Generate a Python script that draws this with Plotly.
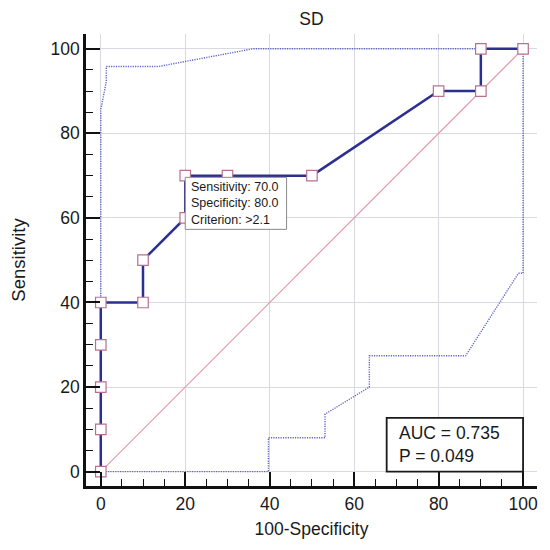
import plotly.graph_objects as go

# ROC curve points (100-Specificity, Sensitivity)
fpr = [0, 0, 0, 0, 0, 10, 10, 20, 20, 30, 50, 80, 90, 90, 100]
tpr = [0, 10, 20, 30, 40, 40, 50, 60, 70, 70, 70, 90, 90, 100, 100]

# 95% confidence bounds
upper_x = [0, 0, 1.3, 1.3, 13.6, 36, 100]
upper_y = [0, 85.6, 92.2, 95.8, 95.8, 100, 100]
lower_x = [0, 39.7, 39.7, 53.1, 53.1, 63.6, 63.6, 86.4, 98.9, 100, 100]
lower_y = [0, 0, 8, 8, 13.6, 20, 27.4, 27.4, 46.9, 46.9, 100]

diag = [0, 100]

criterion_text = "Sensitivity: 70.0<br>Specificity: 80.0<br>Criterion: >2.1"
auc_text = "AUC = 0.735<br>P = 0.049"

FONT = "Liberation Sans, Arial, sans-serif"
TXT = "#1a1a1a"
LINE_BLUE = "#2b2f8f"
BAND_BLUE = "#5e64c4"

# page body has an 8px margin, so the figure is a bit smaller than the window
W = H = 542

fig = go.Figure()

fig.add_trace(go.Scatter(
    x=diag, y=diag, mode="lines",
    line=dict(color="#e098a8", width=1.1),
    hoverinfo="skip"
))
fig.add_trace(go.Scatter(
    x=upper_x, y=upper_y, mode="lines",
    line=dict(color=BAND_BLUE, width=1.4, dash="1.2px,1.2px")
))
fig.add_trace(go.Scatter(
    x=lower_x, y=lower_y, mode="lines",
    line=dict(color=BAND_BLUE, width=1.4, dash="1.2px,1.2px")
))
fig.add_trace(go.Scatter(
    x=fpr, y=tpr, mode="lines+markers",
    line=dict(color=LINE_BLUE, width=2.5),
    marker=dict(symbol="square", size=10.5, color="white",
                line=dict(color="#b8708e", width=1.2))
))

# criterion box
fig.add_shape(type="rect", x0=20, x1=44, y0=57.3, y1=69.6,
              line=dict(color="#8a8a8a", width=1), fillcolor="white",
              layer="above")
fig.add_annotation(x=20.9, y=63.45, xanchor="left", yanchor="middle",
                   text=criterion_text, showarrow=False, align="left",
                   font=dict(family=FONT, size=12.5, color=TXT))

# AUC box
fig.add_shape(type="rect", x0=67.7, x1=100, y0=0, y1=12.7,
              line=dict(color=TXT, width=1.8), fillcolor="white",
              layer="above")
fig.add_annotation(x=70.2, y=6.35, xanchor="left", yanchor="middle",
                   text=auc_text, showarrow=False, align="left",
                   font=dict(family=FONT, size=17.5, color=TXT))

axis_common = dict(
    tickvals=[0, 20, 40, 60, 80, 100],
    showgrid=True, gridcolor="#d9d9e2", gridwidth=1,
    zeroline=False,
    showline=True, linecolor="#111111", linewidth=2.5,
    ticks="inside", ticklen=14, tickwidth=2, tickcolor="#111111",
    minor=dict(dtick=5, tick0=0, ticks="inside", ticklen=7, tickwidth=1.2,
               tickcolor="#111111", showgrid=False),
    tickfont=dict(family=FONT, size=17.5, color=TXT),
    automargin=False,
    fixedrange=True,
)

fig.update_layout(
    width=W, height=H,
    margin=dict(l=78, r=13, t=26, b=64),
    paper_bgcolor="white", plot_bgcolor="white",
    showlegend=False,
    title=dict(text="SD", x=0.56, xanchor="center", y=1 - 11 / H, yanchor="middle",
               font=dict(family=FONT, size=17.5, color=TXT)),
    xaxis=dict(axis_common, range=[-3.5, 103.3],
               title=dict(text="100-Specificity", standoff=10,
                          font=dict(family=FONT, size=17.5, color=TXT))),
    yaxis=dict(axis_common, range=[-3.4, 103.5],
               title=dict(text="Sensitivity", standoff=22,
                          font=dict(family=FONT, size=18.5, color=TXT))),
)

fig.write_html("out.html")
